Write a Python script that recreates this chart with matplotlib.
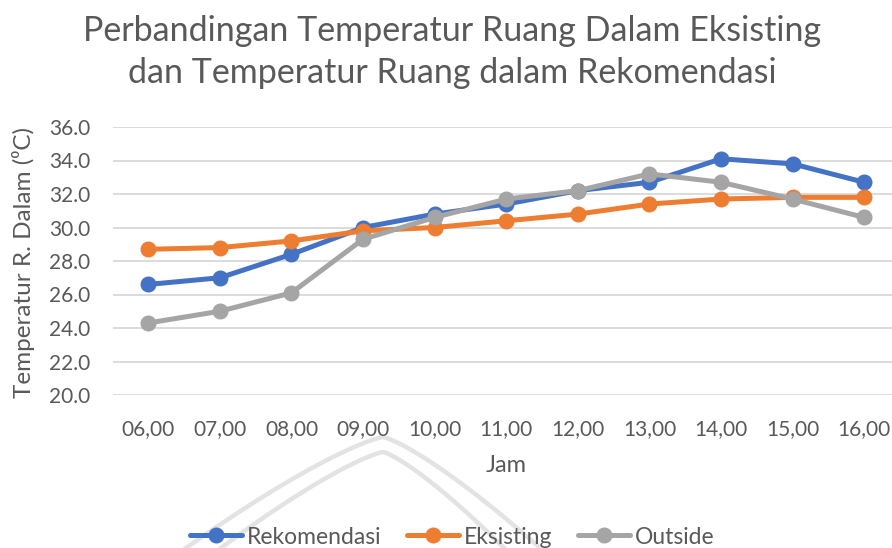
import matplotlib
matplotlib.use("Agg")
import matplotlib.pyplot as plt
import numpy as np
from matplotlib.lines import Line2D

jam = ["06,00", "07,00", "08,00", "09,00", "10,00", "11,00", "12,00", "13,00", "14,00", "15,00", "16,00"]
rekomendasi = [26.6, 27.0, 28.4, 30.0, 30.8, 31.4, 32.2, 32.7, 34.1, 33.8, 32.7]
eksisting = [28.7, 28.8, 29.2, 29.8, 30.0, 30.4, 30.8, 31.4, 31.7, 31.8, 31.8]
outside = [24.3, 25.0, 26.1, 29.3, 30.6, 31.7, 32.2, 33.2, 32.7, 31.7, 30.6]
yticks = [20.0, 22.0, 24.0, 26.0, 28.0, 30.0, 32.0, 34.0, 36.0]

plt.rcParams['font.family'] = ['Lato', 'DejaVu Sans']
TXT = '#595959'
W, H = 892, 548
fig = plt.figure(figsize=(W / 100, H / 100), dpi=100)
fig.patch.set_facecolor('white')

# watermark (faint logo arcs)
for peak, lx, rx in [(437, 186, 540), (452, 221, 504)]:
    t = np.linspace(0, 1, 50)
    xl = 383 + (lx - 383) * t
    yl = peak + (H - peak) * (t ** 1.25)
    xr = 383 + (rx - 383) * t
    fig.add_artist(Line2D(np.concatenate([xl[::-1], xr]) / W,
                          1 - np.concatenate([yl[::-1], yl]) / H,
                          color='#e3e3e3', lw=3.2, zorder=0))

ax = fig.add_axes([112.5 / W, 1 - 395 / H, (900 - 112.5) / W, (395 - 127) / H])
ax.set_facecolor('none')
x = np.arange(len(jam))
colors = {'Rekomendasi': '#4472C4', 'Eksisting': '#ED7D31', 'Outside': '#A5A5A5'}
for name, vals in [('Rekomendasi', rekomendasi), ('Eksisting', eksisting), ('Outside', outside)]:
    ax.plot(x, vals, color=colors[name], lw=3.6, marker='o', ms=10.5, label=name,
            solid_capstyle='round', zorder=3)

ax.set_xlim(-0.5, len(jam) - 0.5)
ax.set_ylim(20, 36)
ax.set_yticks(yticks)
ax.set_yticklabels([f"{v:.1f}" for v in yticks])
ax.set_xticks(x)
ax.set_xticklabels(jam)
ax.grid(axis='y', color='#d9d9d9', lw=1.3)
ax.set_axisbelow(True)
for s in ax.spines.values():
    s.set_visible(False)
ax.tick_params(axis='both', length=0, colors=TXT, labelsize=15)
ax.tick_params(axis='x', pad=17)
ax.tick_params(axis='y', pad=16)

ax.set_xlabel('Jam', color=TXT, fontsize=17, labelpad=12)
fig.text(24 / W, 1 - 262 / H, 'Temperatur R. Dalam (⁰C)', rotation=90, color=TXT,
         fontsize=17.5, ha='center', va='center')

fig.text(452 / W, 1 - 52 / H, 'Perbandingan Temperatur Ruang Dalam Eksisting\ndan Temperatur Ruang dalam Rekomendasi',
         ha='center', va='center', color=TXT, fontsize=24.5, linespacing=1.42)

leg = fig.legend(loc='center', bbox_to_anchor=(452 / W, 1 - 537 / H), ncol=3, frameon=False,
                 fontsize=16.5, handlelength=2.3, columnspacing=1.1, handletextpad=0.2,
                 labelcolor=TXT)

fig.savefig('out.png', dpi=100, facecolor='white')
